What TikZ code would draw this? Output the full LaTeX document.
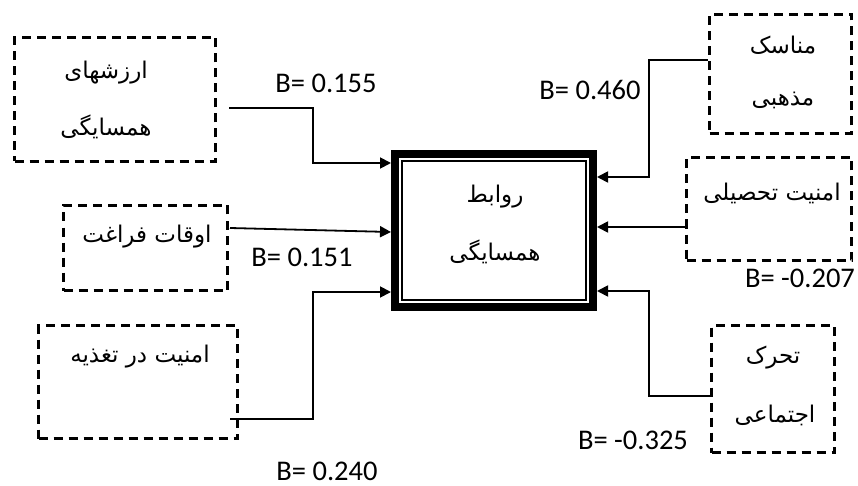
\documentclass[tikz,border=0pt]{standalone}
\usepackage{fontspec}
\setmainfont{Carlito}
\newfontfamily\fa[Script=Arabic]{DejaVu Sans}
\TeXXeTstate=1
\usetikzlibrary{arrows.meta,calc}
\newcommand{\fatx}[1]{{\fa\beginR #1\endR}}
\begin{document}
\begin{tikzpicture}[x=1pt,y=-1pt,
  dbox/.style={draw,line width=2.8pt,dash pattern=on 9pt off 6pt,rectangle,inner sep=0pt},
  ftext/.style={font=\fa\fontsize{23}{26}\selectfont,inner sep=0pt},
  blabel/.style={font=\fontsize{28.5}{32}\selectfont,inner sep=0pt},
  conn/.style={line width=1.8pt,-{Triangle[length=11pt,width=11pt]}},
  central/.style={draw,line width=8pt,rectangle,inner sep=0pt,minimum width=198pt,minimum height=153pt}]
\useasboundingbox (0,0) rectangle (858,486);
% central box
\node[central] (C) at (494,230.5) {};
\draw[line width=2pt] ($(C.north west)+(11,11)$) rectangle ($(C.south east)+(-11,-11)$);
\node[ftext] (c1) at (495,197) {\fatx{روابط}};
\node[ftext] (c2) at (495,252) {\fatx{همسایگی}};
% dashed boxes
\node[dbox,minimum width=201pt,minimum height=124pt] (b1) at (115,99.5) {};
\node[dbox,minimum width=164pt,minimum height=85pt] (b2) at (145.5,248) {};
\node[dbox,minimum width=199pt,minimum height=113pt] (b3) at (138,382) {};
\node[dbox,minimum width=142pt,minimum height=119pt] (b4) at (780.5,74) {};
\node[dbox,minimum width=165pt,minimum height=103pt] (b5) at (769,209) {};
\node[dbox,minimum width=123pt,minimum height=127pt] (b6) at (773,389) {};
% texts
\node[ftext] (t1a) at (106,73) {\fatx{ارزشهای}};
\node[ftext] (t1b) at (106,127) {\fatx{همسایگی}};
\node[ftext] (t2) at (147,237) {\fatx{اوقات فراغت}};
\node[ftext] (t3) at (140,357) {\fatx{امنیت در تغذیه}};
\node[ftext] (t4a) at (783,45) {\fatx{مناسک}};
\node[ftext] (t4b) at (783,100) {\fatx{مذهبی}};
\node[ftext] (t5) at (772,193) {\fatx{امنیت تحصیلی}};
\node[ftext] (t6a) at (773,358) {\fatx{تحرک}};
\node[ftext] (t6b) at (775,415) {\fatx{اجتماعی}};
% labels
\node[blabel] (l1) at (326,83) {B= 0.155};
\node[blabel] (l2) at (302,257) {B= 0.151};
\node[blabel] (l3) at (327,471) {B= 0.240};
\node[blabel] (l4) at (590,90) {B= 0.460};
\node[blabel] (l5) at (800,278) {B= -0.207};
\node[blabel] (l6) at (633,440) {B= -0.325};
% connector ends
\coordinate (s1) at (229,108);
\coordinate (s2) at (230,228);
\coordinate (s3) at (230,419);
\coordinate (s4) at (708,60);
\coordinate (s5) at (685,227);
\coordinate (s6) at (710,396);
\coordinate (e1) at ($(C.north west)+(0,13)$);
\coordinate (e2) at ($(C.north west)+(0,82)$);
\coordinate (e3) at ($(C.north west)+(0,142)$);
\coordinate (e4) at ($(C.north east)+(0,27)$);
\coordinate (e5) at ($(C.north east)+(0,77)$);
\coordinate (e6) at ($(C.north east)+(0,141)$);
\draw[conn] (s1) -- ++(84,0) |- (e1);
\draw[conn] (s2) -- (e2);
\draw[conn] (s3) -- ++(83,0) |- (e3);
\draw[conn] (s4) -- ++(-59,0) |- (e4);
\draw[conn] (s5) -- (e5);
\draw[conn] (s6) -- ++(-61,0) |- (e6);
\end{tikzpicture}
\end{document}
